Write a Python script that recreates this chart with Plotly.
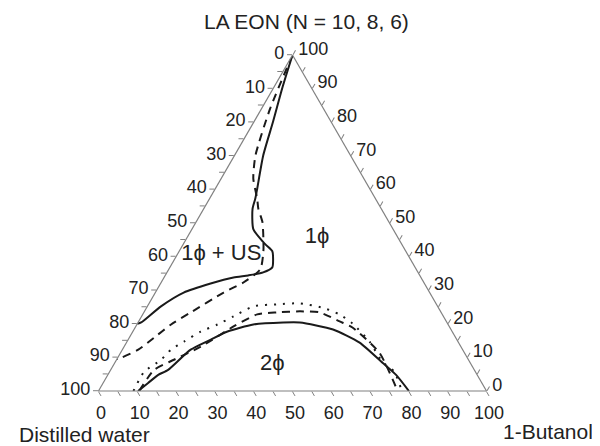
import plotly.graph_objects as go

# Ternary components in %: a = LA EON (top apex), b = distilled water (bottom-left), c = 1-butanol (bottom-right)

# 1phi / (1phi + US) boundary, solid curve
us_solid_a = [100, 90.1, 80.2, 70.1, 60.2, 57.2, 54.2, 48.2, 43.7, 41.6, 39.2, 36.8, 35.3, 34.4, 33.8, 32.0, 29.3, 25.2, 20.4, 20.0]
us_solid_b = [0, 7.6, 14.9, 22.5, 29.0, 31.0, 33.2, 36.0, 35.2, 34.4, 35.4, 36.8, 39.9, 44.2, 48.3, 55.1, 63.4, 71.3, 78.8, 80.0]
us_solid_c = [0, 2.3, 4.9, 7.4, 10.8, 11.8, 12.6, 15.8, 21.1, 24.0, 25.4, 26.4, 24.8, 21.4, 17.9, 12.9, 7.3, 3.5, 0.8, 0.0]

# 1phi / (1phi + US) boundary, dashed curve
us_dash_a = [100, 84.1, 70.1, 63.2, 57.2, 54.2, 50.3, 45.2, 41.6, 36.2, 32.3, 29.3, 23.4, 19.8, 15.9, 12.3, 9.9, 9.5]
us_dash_b = [0, 13.7, 24.5, 28.5, 30.5, 31.7, 32.6, 34.9, 36.7, 40.2, 46.5, 53.1, 64.5, 71.4, 77.7, 83.6, 89.2, 90.5]
us_dash_c = [0, 2.2, 5.4, 8.3, 12.3, 14.1, 17.1, 19.9, 21.7, 23.6, 21.2, 17.6, 12.1, 8.8, 6.4, 4.1, 0.9, 0.0]

# 2phi boundary, solid curve
tp_solid_a = [0, 2.4, 4.8, 6.3, 12.3, 15.3, 17.7, 19.8, 20.4, 20.4, 18.3, 14.4, 8.4, 4.8, 0]
tp_solid_b = [89.8, 86.0, 82.2, 78.9, 70.1, 63.4, 57.9, 50.2, 42.2, 37.9, 30.4, 25.5, 22.6, 20.9, 20.0]
tp_solid_c = [10.2, 11.6, 13.0, 14.8, 17.6, 21.3, 24.4, 30.0, 37.4, 41.7, 51.3, 60.1, 69.0, 74.3, 80.0]

# 2phi boundary, dashed curve
tp_dash_a = [0, 6.3, 9.3, 13.2, 19.2, 22.8, 23.4, 23.7, 23.4, 20.7, 18.9, 11.4, 0.9, 0]
tp_dash_b = [89.5, 82.5, 75.9, 67.0, 55.6, 47.7, 42.2, 36.2, 31.3, 27.5, 25.1, 21.9, 22.8, 23.0]
tp_dash_c = [10.5, 11.2, 14.8, 19.8, 25.2, 29.5, 34.4, 40.1, 45.3, 51.8, 56.0, 66.7, 76.3, 77.0]

# 2phi boundary, dotted curve
tp_dot_a = [0, 5.7, 9.3, 12.3, 14.7, 17.7, 19.8, 22.2, 25.2, 25.8, 26.1, 24.6, 22.8, 20.1, 14.7, 8.7, 5.7, 0.9, 0]
tp_dot_b = [91.0, 85.4, 79.2, 75.2, 70.6, 64.8, 59.4, 54.1, 47.5, 41.0, 35.0, 29.4, 26.5, 24.5, 22.8, 22.5, 20.9, 21.6, 21.5]
tp_dot_c = [9.0, 8.9, 11.5, 12.5, 14.7, 17.5, 20.8, 23.7, 27.3, 33.2, 38.9, 46.0, 50.7, 55.4, 62.5, 68.8, 73.4, 77.5, 78.5]

# region labels
region_text = ["1\u03d5 + US", "1\u03d5", "2\u03d5"]
region_a = [40.7, 45.8, 7.8]
region_b = [48.0, 20.8, 51.3]
region_c = [11.3, 33.4, 40.9]

title_text = "LA EON (N = 10, 8, 6)"
water_label = "Distilled water"
butanol_label = "1-Butanol"

tick_vals = list(range(0, 101, 5))
tick_text = [str(100 - v) if v % 10 == 0 else "" for v in tick_vals]

FONT = "Arial, Liberation Sans, sans-serif"
INK = "#1a1a1a"
AXIS = "#808080"
TXT = "#222222"

W, H = 600, 446
OFF = 8  # the page body margin shifts the whole figure by this many pixels


def px(x):
    return (x - OFF) / W


def py(y):
    return (H - (y - OFF)) / H


fig = go.Figure()

curves = [
    (us_solid_a, us_solid_b, us_solid_c, "solid"),
    (us_dash_a, us_dash_b, us_dash_c, "8px,6px"),
    (tp_solid_a, tp_solid_b, tp_solid_c, "solid"),
    (tp_dash_a, tp_dash_b, tp_dash_c, "8px,6px"),
    (tp_dot_a, tp_dot_b, tp_dot_c, "2px,7px"),
]
for a, b, c, dash in curves:
    fig.add_trace(go.Scatterternary(
        a=a, b=b, c=c, mode="lines",
        line=dict(color=INK, width=2, dash=dash, shape="spline", smoothing=0.6),
        showlegend=False, hoverinfo="skip"))

fig.add_trace(go.Scatterternary(
    a=region_a, b=region_b, c=region_c, mode="text", text=region_text,
    textposition="middle center",
    textfont=dict(family=FONT, size=22, color=TXT),
    showlegend=False, hoverinfo="skip"))

axis_common = dict(
    tickmode="array", tickvals=tick_vals, ticktext=tick_text,
    ticks="outside", ticklen=5, tickcolor=AXIS, tickwidth=1,
    showline=True, linecolor=AXIS, linewidth=1.2,
    showgrid=False, tickfont=dict(family=FONT, size=18, color=TXT),
    title=dict(text=""),
)

fig.update_layout(
    width=W, height=H,
    margin=dict(l=0, r=0, t=0, b=0),
    paper_bgcolor="white", plot_bgcolor="white",
    template="none",
    ternary=dict(
        sum=100,
        bgcolor="white",
        domain=dict(x=[px(98.5), px(486.5)], y=[py(393), py(53)]),
        aaxis=axis_common,
        baxis=axis_common,
        caxis=axis_common,
    ),
    annotations=[
        dict(text=title_text, x=px(306), y=py(9), xref="paper", yref="paper",
             showarrow=False, font=dict(family=FONT, size=21, color=TXT),
             xanchor="center", yanchor="top", borderpad=0),
        dict(text=water_label, x=px(84), y=py(434), xref="paper", yref="paper",
             showarrow=False, font=dict(family=FONT, size=21, color=TXT),
             xanchor="center", yanchor="middle"),
        dict(text=butanol_label, x=px(548), y=py(431), xref="paper", yref="paper",
             showarrow=False, font=dict(family=FONT, size=21, color=TXT),
             xanchor="center", yanchor="middle"),
    ],
)

fig.write_html("out.html")
